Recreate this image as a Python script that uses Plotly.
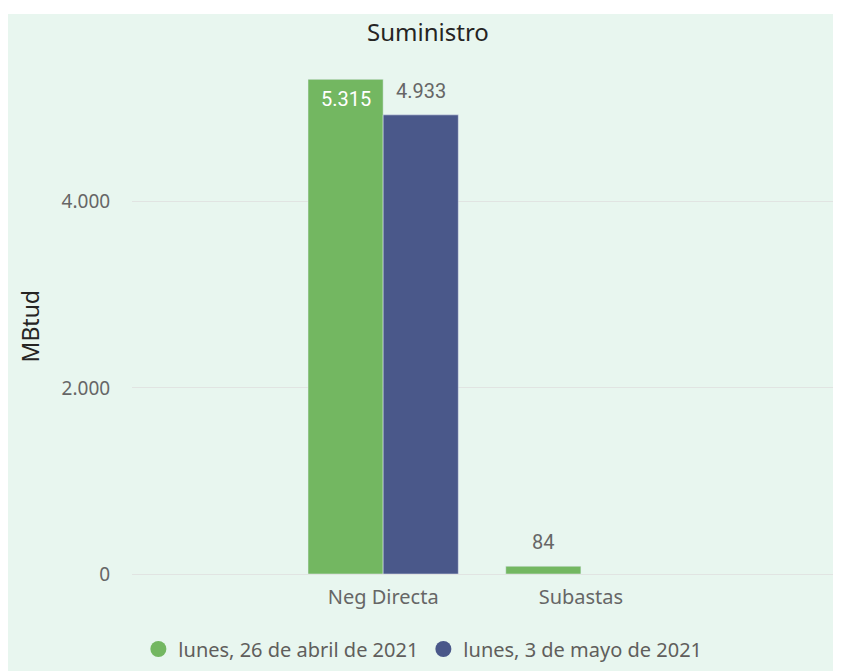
import plotly.graph_objects as go

categories = ["Neg Directa", "Subastas"]
serie_abril = [5315, 84]
serie_mayo = [4933, None]
series_names = ["lunes, 26 de abril de 2021", "lunes, 3 de mayo de 2021"]
y_ticks = [0, 2000, 4000]

GREEN = "#73B761"
BLUE = "#4A588A"
BG = "#E8F6EF"
FONT = "Noto Sans"
LABEL_FONT = "Roboto"

# plot area in figure pixels
L, T, W, H = 124, 42, 706, 525
FW, FH = 849, 671

BARGAP = 0.24
half = (1 - BARGAP) / 4  # offset of each bar centre from category centre

fig = go.Figure()
fig.add_trace(go.Bar(
    x=categories, y=serie_abril, name=series_names[0], marker_color=GREEN,
    showlegend=False, hoverinfo="x+y",
))
fig.add_trace(go.Bar(
    x=categories, y=serie_mayo, name=series_names[1], marker_color=BLUE,
    showlegend=False, hoverinfo="x+y",
))
for nm, col in zip(series_names, [GREEN, BLUE]):
    fig.add_trace(go.Scatter(
        x=[None], y=[None], mode="markers", name=nm,
        marker=dict(symbol="circle", size=20, color=col),
    ))

def fmt(v):
    return f"{v:,.0f}".replace(",", ".")

annotations = []
# green series: first label inside the bar (white), others above
for i, v in enumerate(serie_abril):
    if v is None:
        continue
    inside = v > 1000
    annotations.append(dict(
        x=i - half, y=v, xref="x", yref="y", text=fmt(v), showarrow=False,
        yanchor="top" if inside else "bottom", yshift=-6 if inside else 10,
        font=dict(size=20, family=LABEL_FONT,
                  color="white" if inside else "#666666")))
for i, v in enumerate(serie_mayo):
    if v is None:
        continue
    annotations.append(dict(
        x=i + half, y=v, xref="x", yref="y", text=fmt(v), showarrow=False,
        yanchor="bottom", yshift=10,
        font=dict(size=20, family=LABEL_FONT, color="#666666")))
annotations.append(dict(
    text="MBtud", xref="paper", yref="paper",
    x=(22 - L) / W, y=(567 - 319) / H, textangle=-90,
    showarrow=False, xanchor="center", yanchor="middle",
    font=dict(size=23, color="#252423", family=FONT)))

fig.update_layout(
    width=FW, height=FH,
    margin=dict(l=L, r=FW - L - W, t=T, b=FH - T - H),
    paper_bgcolor=BG, plot_bgcolor="rgba(0,0,0,0)",
    separators=",.",
    barmode="group", bargap=BARGAP, bargroupgap=0,
    font=dict(family=FONT, color="#666666", size=16),
    title=dict(text="Suministro", x=420 / FW, xref="container",
               y=1 - 25 / FH, yanchor="middle", xanchor="center",
               font=dict(size=24, color="#252423", family=FONT)),
    xaxis=dict(range=[-1.27, 2.3], showgrid=False, zeroline=False,
               tickfont=dict(size=20, color="#666666"), ticks="outside",
               ticklen=5, tickcolor="rgba(0,0,0,0)"),
    yaxis=dict(range=[0, 5630], tickvals=y_ticks, tickformat=",d",
               gridcolor="#E1E4E2", gridwidth=1, zeroline=True,
               zerolinecolor="#E1E4E2", zerolinewidth=1,
               tickfont=dict(size=19, color="#666666"), ticks="outside",
               ticklen=17, tickcolor="rgba(0,0,0,0)"),
    legend=dict(orientation="h", x=0.412, xanchor="center",
                y=(567 - 641) / H, yanchor="middle",
                font=dict(size=20, color="#605E5C"), itemwidth=30,
                bgcolor="rgba(0,0,0,0)", tracegroupgap=0),
    annotations=annotations,
    shapes=[
        dict(type="rect", xref="paper", yref="paper",
             x0=-1, x1=2, y0=(T + H - 6) / H, y1=(T + H + 10) / H,
             fillcolor="white", line_width=0, layer="above"),
    ],
)
fig.write_html("out.html")
